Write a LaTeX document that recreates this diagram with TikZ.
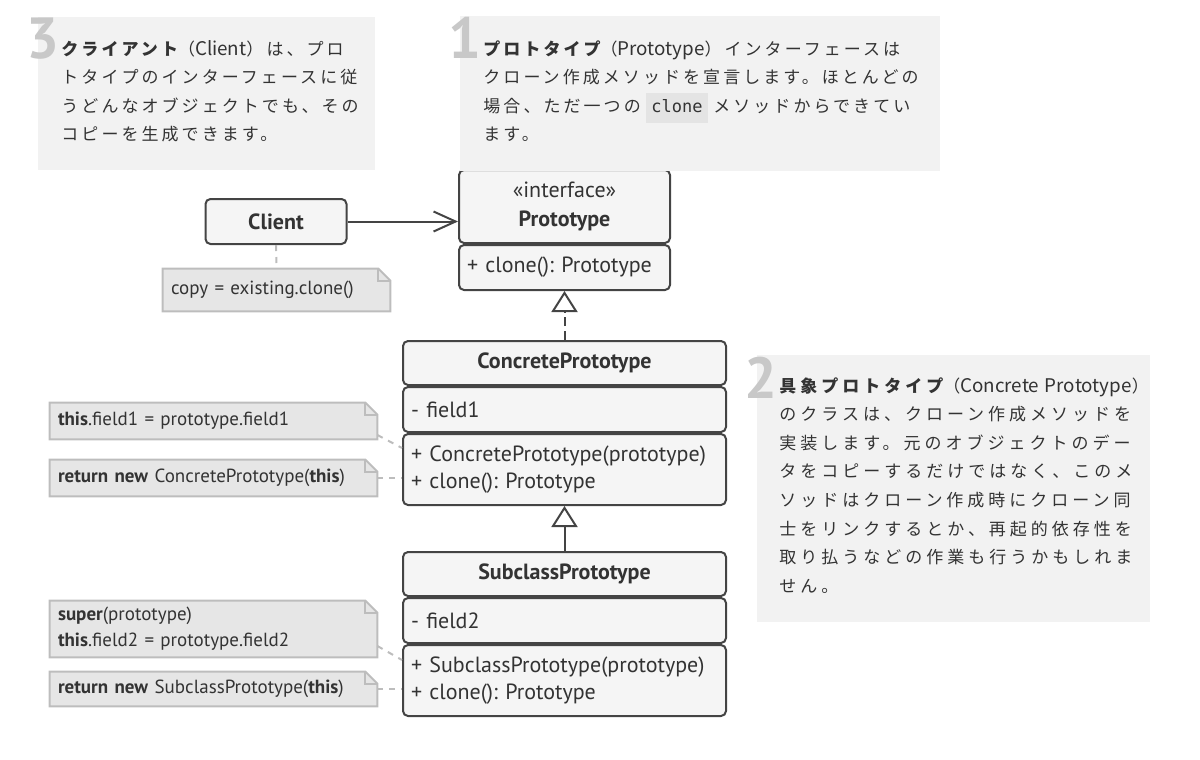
\documentclass[tikz,border=0pt]{standalone}
\usepackage{fontspec}
\setmainfont{PT Sans}
\newfontfamily\jpfont{Noto Sans CJK JP}[LetterSpace=18]
\newfontfamily\jpwide{Noto Sans CJK JP}[LetterSpace=23.5]
\newfontfamily\jplat{Noto Sans CJK JP}
\newfontfamily\codefont{DejaVu Sans Mono}
\usetikzlibrary{arrows.meta,positioning,calc,backgrounds}
\frenchspacing
\definecolor{boxline}{HTML}{444444}
\definecolor{boxfill}{HTML}{F5F5F5}
\definecolor{inktext}{HTML}{333333}
\definecolor{notefill}{HTML}{E6E6E6}
\definecolor{noteline}{HTML}{BDBDBD}
\definecolor{annofill}{HTML}{F2F2F2}
\definecolor{annonum}{HTML}{C8C8C8}
\definecolor{codefill}{HTML}{E4E4E4}
\tikzset{
  uml/box/.style={draw=boxline, fill=boxfill, line width=1pt, rounded corners=2.5pt, text=inktext, inner xsep=4pt, inner ysep=0pt},
  uml/name/.style={uml/box, font=\fontsize{11}{14.5}\selectfont\bfseries, align=center, minimum height=22pt},
  uml/part/.style={uml/box, font=\fontsize{11}{13.5}\selectfont, align=left},
  uml/wide/.style={minimum width=161.5pt, text width=153.5pt},
  uml/narrow/.style={minimum width=105.5pt, text width=97.5pt},
  uml/assoc/.style={draw=boxline, line width=1pt, -{Straight Barb[length=11pt,width=10pt]}},
  uml/realize/.style={draw=boxline, line width=1pt, dash pattern=on 4.5pt off 2.5pt, -{Triangle[open,length=10.5pt,width=13pt]}},
  uml/extends/.style={draw=boxline, line width=1pt, -{Triangle[open,length=10.5pt,width=13pt]}},
  note/body/.style={inner xsep=4pt, inner ysep=0pt, text=inktext, font=\fontsize{9.5}{13}\selectfont, align=left},
  note/wide/.style={minimum width=163.5pt, text width=155.5pt},
  note/edge/.style={fill=notefill, draw=noteline, line width=1pt},
  note/fold/.style={draw=noteline, line width=1pt},
  note/link/.style={draw=noteline, line width=1pt, dash pattern=on 3pt off 3pt},
  anno/panel/.style={fill=annofill},
  anno/num/.style={font=\fontsize{29}{29}\selectfont\bfseries, text=annonum, inner sep=0pt, anchor=base west},
  anno/text/.style={font=\jpfont\fontsize{8.5}{14.3}\selectfont, text=inktext, inner sep=0pt, anchor=base west, align=left, text width=260pt}
}
\newcommand{\notepaper}[1]{%
  \begin{scope}[on background layer]
    \filldraw[note/edge] (#1.north west) -- ([xshift=-6pt]#1.north east) -- ([yshift=-6pt]#1.north east) -- (#1.south east) -- (#1.south west) -- cycle;
    \draw[note/fold] ([xshift=-6pt]#1.north east) |- ([yshift=-6pt]#1.north east);
  \end{scope}}
\newcommand{\codechip}[1]{{\setlength{\fboxsep}{2.5pt}\colorbox{codefill}{\codefont\fontsize{8.5}{10}\selectfont\strut #1}}}
\newcommand{\latin}[1]{{\jplat\fontsize{9.4}{14.3}\selectfont #1}}

\begin{document}
\begin{tikzpicture}[x=0.5pt, y=-0.5pt]
  \useasboundingbox (0,0) rectangle (1200,760);
  % classes
  \node[uml/box, minimum width=70.5pt, minimum height=22.5pt, font=\fontsize{11}{13}\selectfont\bfseries] (client) at (276,221.5) {Client};
  \node[uml/name, uml/narrow, minimum height=36.5pt] (proto) at (564.5,206.5) {{\mdseries «interface»}\\Prototype};
  \node[uml/part, uml/narrow, minimum height=22.5pt, below=0pt of proto] (protom) {+ clone(): Prototype};
  \node[uml/name, uml/wide] (cp) at (564.5,363) {ConcretePrototype};
  \node[uml/part, uml/wide, minimum height=22.5pt, below=0pt of cp] (cpf) {- field1};
  \node[uml/part, uml/wide, minimum height=35.5pt, below=0pt of cpf] (cpm) {+ ConcretePrototype(prototype)\\+ clone(): Prototype};
  \node[uml/name, uml/wide] (sp) at (564.5,574) {SubclassPrototype};
  \node[uml/part, uml/wide, minimum height=22.5pt, below=0pt of sp] (spf) {- field2};
  \node[uml/part, uml/wide, minimum height=35.5pt, below=0pt of spf] (spm) {+ SubclassPrototype(prototype)\\+ clone(): Prototype};
  \draw[uml/assoc] (client.east) -- (client.east -| proto.west);
  \draw[uml/realize] (cp.north) -- (protom.south);
  \draw[uml/extends] (sp.north) -- (cpm.south);
  % notes
  \node[note/body, minimum width=113.5pt, text width=105.5pt, minimum height=21pt] (copynote) at (276.5,290) {copy = existing.clone()};
  \node[note/body, note/wide, minimum height=18pt] (cpinit) at (213.5,421) {\textbf{this}.field1 = prototype.field1};
  \node[note/body, note/wide, minimum height=18pt] (cpclone) at (213.5,478) {\textbf{return new} ConcretePrototype(\textbf{this})};
  \node[note/body, note/wide, minimum height=28pt] (spinit) at (213.5,629) {\textbf{super}(prototype)\\\textbf{this}.field2 = prototype.field2};
  \node[note/body, note/wide, minimum height=17pt] (spclone) at (213.5,689) {\textbf{return new} SubclassPrototype(\textbf{this})};
  \notepaper{copynote}
  \notepaper{cpinit}
  \notepaper{cpclone}
  \notepaper{spinit}
  \notepaper{spclone}
  \draw[note/link] (client) -- (copynote);
  \draw[note/link] ([yshift=-7pt]cpinit.east) -- ([yshift=-7.5pt]cpm.north west);
  \draw[note/link] (cpclone.east) -- (cpclone.east -| cpm.west);
  \draw[note/link] ([yshift=-8.5pt]spinit.east) -- ([yshift=-8pt]spm.north west);
  \draw[note/link] (spclone.east) -- (spclone.east -| spm.west);
  % annotations
  \fill[anno/panel] (38,17) rectangle (375,170);
  \node[anno/num] (num3) at (26,58) {3};
  \node[anno/text] (anno3) at (61,55) {{\bfseries クライアント}（\latin{Client}）は、プロ\\
    トタイプのインターフェースに従\\
    うどんなオブジェクトでも、その\\
    コピーを生成できます。};
  \fill[anno/panel] (460,16) rectangle (940,171);
  \node[anno/num] (num1) at (448,58) {1};
  \node[anno/text] (anno1) at (483,55) {{\bfseries プロトタイプ}（\latin{Prototype}）インターフェースは\\
    クローン作成メソッドを宣言します。ほとんどの\\
    場合、ただ一つの \codechip{clone} メソッドからできてい\\
    ます。};
  \fill[anno/panel] (757,355) rectangle (1150,622);
  \node[anno/num] (num2) at (744,398) {2};
  \node[anno/text, font=\jpwide\fontsize{8.5}{14.3}\selectfont] (anno2) at (779,392) {{\bfseries 具象プロトタイプ}（\latin{Concrete Prototype}）\\
    のクラスは、クローン作成メソッドを\\
    実装します。元のオブジェクトのデー\\
    タをコピーするだけではなく、このメ\\
    ソッドはクローン作成時にクローン同\\
    士をリンクするとか、再起的依存性を\\
    取り払うなどの作業も行うかもしれま\\
    せん。};
\end{tikzpicture}
\end{document}
